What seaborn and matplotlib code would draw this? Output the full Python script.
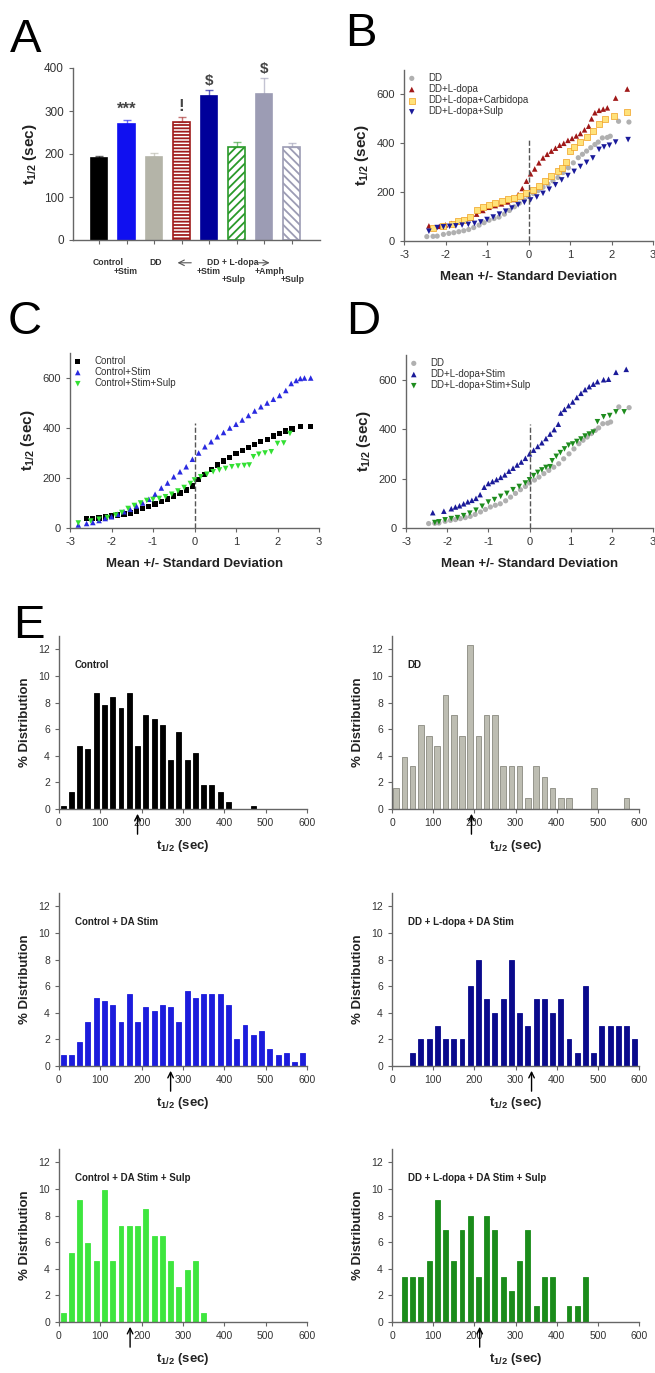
import numpy as np
import pandas as pd
import matplotlib
matplotlib.use('Agg')
import matplotlib.pyplot as plt
import seaborn as sns

# ---- Panel A: mean t1/2 per group ----
a_groups = ['Control', 'Control+Stim', 'DD', 'DD+L-dopa', 'DD+L-dopa+Stim',
            'DD+L-dopa+Stim+Sulp', 'DD+L-dopa+Amph', 'DD+L-dopa+Amph+Sulp']
a_means = [190, 270, 194, 274, 334, 217, 339, 217]
a_sem = [5, 10, 9, 13, 14, 12, 37, 9]
a_marks = ['', '***', '', '!', '$', '', '$', '']

# ---- Panels B-D: t1/2 vs standard deviations from the mean ----
dd_z = [-2.45, -2.3, -2.2, -2.05, -1.92, -1.8, -1.68, -1.56, -1.44, -1.32, -1.19, -1.07, -0.95,
        -0.83, -0.71, -0.58, -0.46, -0.34, -0.22, -0.1, 0.0, 0.12, 0.23, 0.35, 0.47, 0.59, 0.71,
        0.83, 0.96, 1.08, 1.2, 1.3, 1.4, 1.5, 1.6, 1.68, 1.78, 1.9, 1.97, 2.17, 2.42]
dd_t = [18, 19, 20, 27, 31, 34, 38, 42, 47, 55, 65, 75, 85, 92, 98, 110, 125, 140, 155, 168, 182,
        194, 206, 220, 233, 246, 260, 280, 300, 320, 341, 355, 368, 382, 395, 405, 422, 424, 429,
        490, 487]

ld_z = [-2.4, -2.15, -2.0, -1.85, -1.7, -1.55, -1.4, -1.25, -1.1, -0.95, -0.8, -0.65, -0.5, -0.35,
        -0.25, -0.15, -0.05, 0.05, 0.15, 0.25, 0.35, 0.45, 0.55, 0.65, 0.75, 0.85, 0.95, 1.05, 1.15,
        1.25, 1.35, 1.45, 1.52, 1.6, 1.7, 1.8, 1.9, 2.1, 2.38]
ld_t = [62, 60, 66, 72, 78, 85, 95, 110, 125, 138, 145, 152, 160, 170, 190, 215, 245, 275, 295, 320,
        340, 355, 368, 380, 392, 400, 412, 420, 430, 440, 455, 470, 500, 525, 535, 540, 545, 585, 622]

ldc_z = [-2.3, -2.05, -1.85, -1.7, -1.55, -1.4, -1.25, -1.1, -0.95, -0.8, -0.65, -0.5, -0.35, -0.2,
         -0.05, 0.1, 0.25, 0.4, 0.55, 0.7, 0.8, 0.9, 1.0, 1.1, 1.25, 1.4, 1.55, 1.7, 1.85, 2.05, 2.38]
ldc_t = [55, 60, 70, 80, 88, 100, 128, 140, 148, 155, 162, 170, 178, 186, 195, 208, 225, 245, 265,
         285, 300, 325, 370, 385, 405, 425, 450, 478, 500, 512, 530]

lds_z = [-2.4, -2.2, -2.05, -1.9, -1.75, -1.6, -1.45, -1.3, -1.15, -1.0, -0.85, -0.7, -0.55, -0.4,
         -0.25, -0.1, 0.05, 0.2, 0.35, 0.5, 0.65, 0.8, 0.95, 1.1, 1.25, 1.4, 1.55, 1.7, 1.82, 1.95,
         2.1, 2.4]
lds_t = [40, 55, 58, 60, 62, 65, 68, 72, 78, 88, 98, 110, 122, 135, 148, 158, 168, 180, 195, 212,
         230, 250, 268, 285, 305, 322, 340, 375, 385, 392, 405, 415]

ctl_z = [-2.6, -2.45, -2.3, -2.15, -2.0, -1.85, -1.7, -1.55, -1.4, -1.25, -1.1, -0.95, -0.8, -0.65,
         -0.5, -0.35, -0.2, -0.05, 0.1, 0.25, 0.4, 0.55, 0.7, 0.85, 1.0, 1.15, 1.3, 1.45, 1.6, 1.75,
         1.9, 2.05, 2.2, 2.35, 2.56, 2.8]
ctl_t = [38, 38, 40, 44, 48, 52, 56, 60, 68, 78, 86, 96, 106, 116, 128, 140, 152, 168, 195, 215,
         235, 252, 268, 282, 298, 310, 322, 335, 345, 355, 368, 378, 388, 396, 405, 405]

cs_z = [-2.8, -2.6, -2.45, -2.3, -2.15, -2.0, -1.85, -1.7, -1.55, -1.4, -1.25, -1.1, -0.95, -0.8,
        -0.65, -0.5, -0.35, -0.2, -0.05, 0.1, 0.25, 0.4, 0.55, 0.7, 0.85, 1.0, 1.15, 1.3, 1.45, 1.6,
        1.75, 1.9, 2.05, 2.2, 2.33, 2.45, 2.55, 2.65, 2.8]
cs_t = [12, 18, 22, 30, 38, 45, 55, 65, 75, 88, 100, 115, 135, 160, 180, 205, 225, 245, 275, 300,
        325, 345, 365, 382, 400, 415, 432, 450, 468, 485, 500, 515, 530, 550, 578, 590, 598, 600, 600]

css_z = [-2.8, -2.5, -2.3, -2.1, -1.9, -1.75, -1.6, -1.45, -1.3, -1.15, -1.0, -0.85, -0.7, -0.55,
         -0.4, -0.25, -0.1, 0.0, 0.15, 0.3, 0.45, 0.6, 0.75, 0.9, 1.05, 1.2, 1.32, 1.42, 1.55, 1.7,
         1.85, 2.0, 2.15, 2.3]
css_t = [20, 28, 35, 42, 52, 62, 78, 90, 100, 110, 114, 118, 125, 135, 148, 162, 178, 192, 205, 215,
         225, 232, 238, 245, 248, 250, 252, 285, 295, 300, 305, 338, 340, 378]

dls_z = [-2.35, -2.08, -1.9, -1.8, -1.7, -1.6, -1.5, -1.4, -1.3, -1.2, -1.1, -1.0, -0.9, -0.8, -0.7,
         -0.6, -0.5, -0.4, -0.3, -0.2, -0.1, 0.0, 0.1, 0.2, 0.3, 0.4, 0.5, 0.6, 0.7, 0.76, 0.85, 0.95,
         1.05, 1.15, 1.25, 1.35, 1.45, 1.55, 1.65, 1.8, 1.92, 2.1, 2.35]
dls_t = [62, 68, 78, 85, 90, 98, 106, 112, 120, 135, 165, 180, 188, 196, 205, 215, 230, 242, 255, 267,
         282, 300, 315, 330, 345, 362, 380, 398, 420, 465, 480, 495, 510, 528, 545, 560, 572, 582, 592,
         600, 602, 630, 642]

dlss_z = [-2.3, -2.2, -2.05, -1.9, -1.75, -1.6, -1.45, -1.3, -1.15, -1.0, -0.85, -0.7, -0.55, -0.4,
          -0.25, -0.1, 0.0, 0.1, 0.2, 0.3, 0.4, 0.5, 0.55, 0.65, 0.75, 0.85, 0.95, 1.05, 1.15, 1.25,
          1.35, 1.45, 1.55, 1.65, 1.8, 1.95, 2.1, 2.3]
dlss_t = [22, 25, 33, 38, 42, 50, 60, 72, 88, 105, 115, 128, 140, 155, 168, 182, 195, 212, 225, 235,
          245, 248, 272, 290, 305, 320, 335, 340, 350, 360, 372, 380, 388, 430, 450, 455, 470, 470]

# ---- Panel E: % distribution of t1/2, 20 s bins ----
t_bins = [10, 30, 50, 70, 90, 110, 130, 150, 170, 190, 210, 230, 250, 270, 290,
          310, 330, 350, 370, 390, 410, 430, 450, 470, 490, 510, 530, 550, 570, 590]
control_pct = [0.2, 1.3, 4.7, 4.5, 8.7, 7.8, 8.4, 7.6, 8.7, 4.7, 7.1, 6.8, 6.3, 3.7, 5.8,
               3.7, 4.2, 1.8, 1.8, 1.3, 0.5, 0, 0, 0.2, 0, 0, 0, 0, 0, 0]
dd_pct = [1.6, 3.9, 3.2, 6.3, 5.5, 4.7, 8.6, 7.1, 5.5, 12.3, 5.5, 7.1, 7.1, 3.2, 3.2,
          3.2, 0.8, 3.2, 2.4, 1.6, 0.8, 0.8, 0, 0, 1.6, 0, 0, 0, 0.8, 0]
stim_pct = [0.8, 0.8, 1.8, 3.3, 5.1, 4.9, 4.6, 3.3, 5.4, 3.3, 4.4, 4.1, 4.6, 4.4, 3.3,
            5.6, 5.1, 5.4, 5.4, 5.4, 4.6, 2.0, 3.1, 2.3, 2.6, 1.3, 0.8, 1.0, 0.3, 1.0]
ld_stim_pct = [0, 0, 1, 2, 2, 3, 2, 2, 2, 6, 8, 5, 4, 5, 8,
               4, 3, 5, 5, 4, 5, 2, 1, 6, 1, 3, 3, 3, 3, 2]
stim_sulp_pct = [0.7, 5.2, 9.2, 5.9, 4.6, 9.9, 4.6, 7.2, 7.2, 7.2, 8.5, 6.5, 6.5, 4.6, 2.6,
                 3.9, 4.6, 0.7, 0, 0, 0, 0, 0, 0, 0, 0, 0, 0, 0, 0]
ld_stim_sulp_pct = [0, 3.4, 3.4, 3.4, 4.6, 9.2, 6.9, 4.6, 6.9, 8.0, 3.4, 8.0, 6.9, 3.4, 2.3,
                    4.6, 6.9, 1.2, 3.4, 3.4, 0, 1.2, 1.2, 3.4, 0, 0, 0, 0, 0, 0]
hist_titles = ['Control', 'DD', 'Control + DA Stim', 'DD + L-dopa + DA Stim',
               'Control + DA Stim + Sulp', 'DD + L-dopa + DA Stim + Sulp']
hist_means = [190, 193, 270, 339, 172, 213]

sns.set_style('ticks')
plt.rcParams['font.family'] = ['Liberation Sans', 'DejaVu Sans']
plt.rcParams['mathtext.fontset'] = 'custom'
plt.rcParams['mathtext.rm'] = 'Liberation Sans'
plt.rcParams['mathtext.bf'] = 'Liberation Sans:bold'
plt.rcParams['mathtext.it'] = 'Liberation Sans:italic'
plt.rcParams['hatch.linewidth'] = 1.3
plt.rcParams['axes.unicode_minus'] = False

W, H = 655, 1373
fig = plt.figure(figsize=(W / 100, H / 100), dpi=100)
fig.patch.set_facecolor('white')

T_LABEL = r'$\mathbf{t_{1/2}}$ (sec)'
TXT = '#222222'


def add_ax(l, t, r, b):
    return fig.add_axes([l / W, 1 - b / H, (r - l) / W, (b - t) / H])


def style_ax(ax, size=8):
    sns.despine(ax=ax)
    for s in ['left', 'bottom']:
        ax.spines[s].set_color('#666666')
        ax.spines[s].set_linewidth(1.0)
    ax.tick_params(colors='#666666', labelcolor='#333333', labelsize=size, length=3, width=0.8)
    ax.set_facecolor('white')


# ---------------- Panel A ----------------
axA = add_ax(73, 68, 320, 240)
a_face = ['#000000', '#1010f0', '#b4b4a8', '#ffffff', '#00009a', '#ffffff', '#9c9cb4', '#ffffff']
a_edge = ['#000000', '#1010f0', '#b4b4a8', '#a01c1c', '#00009a', '#2a9a2a', '#9c9cb4', '#9c9cb4']
a_hatch = [None, None, None, '-----', None, '////', None, '\\\\\\\\']
dfA = pd.DataFrame({'group': a_groups, 't': a_means})
sns.barplot(data=dfA, x='group', y='t', hue='group', order=a_groups, hue_order=a_groups,
            palette=a_face, saturation=1, width=0.6, legend=False, errorbar=None, ax=axA)
for i, cont in enumerate(axA.containers):
    for p in cont:
        p.set_facecolor(a_face[i])
        p.set_edgecolor(a_edge[i])
        p.set_linewidth(1.2)
        if a_hatch[i]:
            p.set_hatch(a_hatch[i])
for i in range(len(a_groups)):
    axA.errorbar(i, a_means[i], yerr=[[0], [a_sem[i]]], fmt='none', ecolor=a_edge[i],
                 alpha=0.6, capsize=3, elinewidth=1, capthick=1)
    if a_marks[i]:
        fs = 12 if a_marks[i] != '$' else 11
        axA.text(i, a_means[i] + a_sem[i] + 6, a_marks[i], ha='center', va='bottom',
                 fontsize=fs, fontweight='bold', color='#444444')
axA.set_xlim(-0.95, 8.03)
axA.set_ylim(0, 400)
axA.set_yticks([0, 100, 200, 300, 400])
axA.set_xticks(range(8))
axA.set_xticklabels([])
axA.set_xlabel('')
axA.set_ylabel(T_LABEL, fontsize=11, fontweight='bold', color=TXT, labelpad=4)
style_ax(axA, 8.5)

small = dict(fontsize=6.2, fontweight='bold', color='#333333', ha='center', va='center',
             clip_on=False)
axA.text(0.33, -53, 'Control', **small)
axA.text(0.95, -73, '+Stim', **small)
axA.text(2.04, -53, 'DD', **small)
axA.text(4.85, -53, 'DD + L-dopa', **small)
axA.text(3.97, -73, '+Stim', **small)
axA.text(4.9, -92, '+Sulp', **small)
axA.text(6.2, -73, '+Amph', **small)
axA.text(7.05, -92, '+Sulp', **small)
arr = dict(arrowstyle='->', color='#555555', lw=0.8)
axA.annotate('', xy=(2.75, -53), xytext=(3.45, -53), arrowprops=arr, annotation_clip=False)
axA.annotate('', xy=(6.3, -53), xytext=(5.65, -53), arrowprops=arr, annotation_clip=False)

# ---------------- Panels B, C, D ----------------
def qq_panel(ax, series):
    for z, t, marker, face, edge, size, label in series:
        sns.scatterplot(x=z, y=t, marker=marker, color=face, edgecolor=edge,
                        linewidth=0.5 if edge != 'none' else 0, s=size, label=label, ax=ax)
    ax.vlines(0, 0, 420, colors='#555555', linestyles='--', lw=1)
    ax.set_xlim(-3, 3)
    ax.set_ylim(0, 700)
    ax.set_xticks([-3, -2, -1, 0, 1, 2, 3])
    ax.set_yticks([0, 200, 400, 600])
    ax.set_xlabel('Mean +/- Standard Deviation', fontsize=9.5, fontweight='bold', color=TXT,
                  labelpad=8)
    ax.set_ylabel(T_LABEL, fontsize=11, fontweight='bold', color=TXT, labelpad=4)
    style_ax(ax, 8)
    leg = ax.legend(loc='upper left', frameon=False, fontsize=7, handletextpad=1.2,
                    labelspacing=0.12, borderaxespad=0.1, borderpad=0.2, markerscale=1.0,
                    handlelength=1.0)
    for txt in leg.get_texts():
        txt.set_color('#333333')


axB = add_ax(404, 70, 653, 241)
qq_panel(axB, [
    (dd_z, dd_t, 'o', '#b0b0b0', 'none', 14, 'DD'),
    (ld_z, ld_t, '^', '#a01818', 'none', 16, 'DD+L-dopa'),
    (ldc_z, ldc_t, 's', '#ffe27a', '#f0a020', 14, 'DD+L-dopa+Carbidopa'),
    (lds_z, lds_t, 'v', '#1a1a9a', 'none', 16, 'DD+L-dopa+Sulp'),
])

axC = add_ax(70, 353, 319, 528)
qq_panel(axC, [
    (ctl_z, ctl_t, 's', '#000000', 'none', 14, 'Control'),
    (cs_z, cs_t, '^', '#2a2ae0', 'none', 16, 'Control+Stim'),
    (css_z, css_t, 'v', '#33e033', 'none', 16, 'Control+Stim+Sulp'),
])

axD = add_ax(406, 355, 653, 528)
qq_panel(axD, [
    (dd_z, dd_t, 'o', '#b0b0b0', 'none', 14, 'DD'),
    (dls_z, dls_t, '^', '#1a1a99', 'none', 16, 'DD+L-dopa+Stim'),
    (dlss_z, dlss_t, 'v', '#1e8c1e', 'none', 16, 'DD+L-dopa+Stim+Sulp'),
])

# ---------------- Panel E ----------------
hist_data = [control_pct, dd_pct, stim_pct, ld_stim_pct, stim_sulp_pct, ld_stim_sulp_pct]
hist_face = ['#000000', '#bdbdb2', '#1c1cdc', '#0a0a8c', '#3ee63e', '#1a8c1a']
hist_edge = ['#000000', '#8a8a80', '#1c1cdc', '#0a0a8c', '#3ee63e', '#1a8c1a']
hist_width = [0.6, 0.68, 0.6, 0.6, 0.6, 0.6]
hist_boxes = [(59, 636, 307, 809), (392, 636, 639, 809),
              (59, 893, 307, 1066), (392, 893, 639, 1066),
              (59, 1149, 307, 1322), (392, 1149, 639, 1322)]

for k in range(6):
    ax = add_ax(*hist_boxes[k])
    dfh = pd.DataFrame({'t': t_bins, 'pct': hist_data[k]})
    sns.barplot(data=dfh, x='t', y='pct', native_scale=True, color=hist_face[k], saturation=1,
                width=hist_width[k], errorbar=None, edgecolor=hist_edge[k], linewidth=0.6, ax=ax)
    ax.set_xlim(0, 600)
    ax.set_ylim(0, 13)
    ax.set_xticks([0, 100, 200, 300, 400, 500, 600])
    ax.set_yticks([0, 2, 4, 6, 8, 10, 12])
    ax.set_xlabel(T_LABEL, fontsize=9.5, fontweight='bold', color=TXT, labelpad=7)
    ax.set_ylabel('% Distribution', fontsize=9.5, fontweight='bold', color=TXT, labelpad=5)
    style_ax(ax, 7.5)
    ax.text(38, 10.8, hist_titles[k], fontsize=7, fontweight='bold', color=TXT,
            ha='left', va='center')
    ax.annotate('', xy=(hist_means[k], -0.15), xytext=(hist_means[k], -2.1),
                arrowprops=dict(arrowstyle='->', color='black', lw=1), annotation_clip=False)

# panel letters
for letter, x, y in [('A', 10, 52), ('B', 345, 46), ('C', 8, 334), ('D', 346, 334), ('E', 13, 638)]:
    fig.text(x / W, 1 - y / H, letter, fontsize=34, color='black', ha='left', va='baseline')

fig.savefig('out.png', dpi=100, facecolor='white')
